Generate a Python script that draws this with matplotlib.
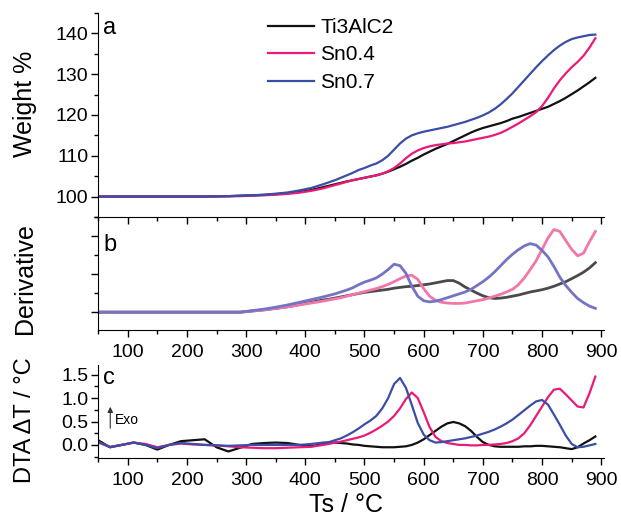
import matplotlib
matplotlib.use("Agg")
import matplotlib.pyplot as plt
from matplotlib.ticker import MultipleLocator

plt.rcParams["font.family"] = ["Liberation Sans", "DejaVu Sans"]

# temperature grid (deg C): coarse below 440, finer above
temp = list(range(50, 431, 20)) + list(range(440, 891, 10))

# panel a: weight %
w_ti3alc2 = [100.0] * 10 + [
    100.05, 100.1, 100.2, 100.3, 100.4, 100.6, 100.8, 101.1, 101.6, 102.3,
    102.65, 103.0, 103.35, 103.7, 104.0, 104.3, 104.6, 104.9, 105.2, 105.6,
    106.1, 106.7, 107.3, 108.0, 108.8, 109.5, 110.3, 111.0, 111.7, 112.3,
    112.9, 113.6, 114.3, 115.0, 115.7, 116.3, 116.8, 117.2, 117.6, 118.0,
    118.5, 119.1, 119.5, 120.0, 120.5, 121.0, 121.5, 122.0, 122.7, 123.4,
    124.2, 125.1, 126.0, 127.0, 128.0, 129.1]
w_sn04 = [100.0] * 10 + [
    100.0, 100.05, 100.1, 100.2, 100.3, 100.45, 100.65, 100.95, 101.4, 102.0,
    102.4, 102.8, 103.2, 103.6, 104.0, 104.3, 104.6, 104.9, 105.2, 105.6,
    106.2, 107.0, 108.1, 109.4, 110.5, 111.3, 111.9, 112.3, 112.6, 112.8,
    113.0, 113.1, 113.3, 113.5, 113.8, 114.1, 114.4, 114.7, 115.1, 115.6,
    116.3, 117.1, 117.9, 118.8, 119.7, 120.7, 122.2, 124.2, 126.5, 128.5,
    130.2, 131.7, 133.0, 134.5, 136.5, 138.8]
w_sn07 = [100.0] * 10 + [
    100.05, 100.1, 100.2, 100.3, 100.45, 100.7, 101.0, 101.5, 102.1, 103.0,
    103.5, 104.0, 104.6, 105.2, 105.8, 106.5, 107.0, 107.6, 108.1, 108.9,
    110.0, 111.5, 113.0, 114.2, 115.0, 115.5, 115.9, 116.2, 116.5, 116.8,
    117.1, 117.5, 117.9, 118.3, 118.8, 119.3, 119.9, 120.6, 121.5, 122.6,
    123.9, 125.3, 126.9, 128.5, 130.1, 131.7, 133.2, 134.6, 135.9, 137.0,
    137.9, 138.6, 139.0, 139.3, 139.6, 139.7]

# panel b: derivative (arb. units)
d_ti3alc2 = [0.0] * 13 + [
    0.03, 0.06, 0.1, 0.14, 0.2, 0.26, 0.32,
    0.34, 0.37, 0.4, 0.43, 0.46, 0.49, 0.52, 0.54, 0.56, 0.58,
    0.6, 0.63, 0.65, 0.67, 0.68, 0.7, 0.72, 0.74, 0.77, 0.8,
    0.83, 0.83, 0.76, 0.66, 0.58, 0.5, 0.43, 0.38, 0.36, 0.37,
    0.39, 0.42, 0.45, 0.49, 0.53, 0.56, 0.59, 0.63, 0.68, 0.74,
    0.8, 0.88, 0.96, 1.05, 1.16, 1.3]
d_sn04 = [0.0] * 13 + [
    0.03, 0.06, 0.1, 0.14, 0.19, 0.24, 0.29,
    0.32, 0.35, 0.38, 0.42, 0.46, 0.5, 0.54, 0.58, 0.62, 0.67,
    0.73, 0.8, 0.88, 0.95, 0.97, 0.86, 0.62, 0.42, 0.31, 0.26,
    0.24, 0.23, 0.23, 0.24, 0.27, 0.3, 0.33, 0.37, 0.42, 0.47,
    0.53, 0.6, 0.72, 0.9, 1.12, 1.35, 1.65, 1.95, 2.17, 2.12,
    1.88, 1.65, 1.48, 1.55, 1.85, 2.12]
d_sn07 = [0.0] * 13 + [
    0.04, 0.08, 0.13, 0.19, 0.26, 0.33, 0.4,
    0.44, 0.48, 0.53, 0.58, 0.64, 0.72, 0.79, 0.84, 0.9, 1.0,
    1.12, 1.26, 1.22, 1.02, 0.68, 0.42, 0.3, 0.27, 0.29, 0.33,
    0.38, 0.43, 0.48, 0.53, 0.6, 0.7, 0.8, 0.92, 1.06, 1.22,
    1.38, 1.52, 1.64, 1.74, 1.8, 1.76, 1.62, 1.45, 1.2, 0.92,
    0.7, 0.52, 0.36, 0.25, 0.16, 0.1]

# panel c: DTA delta T (deg C)
dta_ti3alc2 = [
    0.1, -0.05, 0.0, 0.05, 0.0, -0.1, 0.0, 0.08, 0.1, 0.12,
    -0.05, -0.14, -0.06, 0.02, 0.04, 0.05, 0.04, 0.0, -0.03, 0.02,
    0.05, 0.05, 0.04, 0.03, 0.01, 0.0, -0.02, -0.03, -0.04, -0.05,
    -0.05, -0.05, -0.04, -0.03, 0.0, 0.05, 0.12, 0.21, 0.3, 0.39,
    0.46, 0.49, 0.46, 0.4, 0.3, 0.17, 0.06, 0.0, -0.03, -0.04,
    -0.04, -0.04, -0.04, -0.03, -0.03, -0.02, -0.02, -0.03, -0.04, -0.05,
    -0.07, -0.09, -0.05, 0.03, 0.1, 0.18]
dta_sn04 = [
    0.05, -0.04, 0.0, 0.05, 0.02, -0.05, 0.0, 0.03, 0.01, 0.0,
    -0.01, -0.03, -0.05, -0.06, -0.07, -0.07, -0.06, -0.05, -0.04, 0.0,
    0.02, 0.05, 0.07, 0.1, 0.13, 0.16, 0.2, 0.26, 0.33, 0.41,
    0.5, 0.62, 0.78, 0.98, 1.12, 1.0, 0.7, 0.38, 0.17, 0.08,
    0.04, 0.02, 0.0, 0.0, -0.01, -0.01, 0.0, 0.0, 0.01, 0.02,
    0.04, 0.08, 0.14, 0.25, 0.42, 0.62, 0.82, 1.02, 1.18, 1.2,
    1.08, 0.95, 0.82, 0.8, 1.1, 1.46]
dta_sn07 = [
    0.07, -0.05, 0.0, 0.05, 0.0, -0.07, 0.0, 0.04, 0.02, 0.0,
    -0.01, -0.02, -0.01, 0.0, 0.0, 0.0, 0.0, 0.0, 0.02, 0.05,
    0.06, 0.1, 0.14, 0.2, 0.27, 0.35, 0.44, 0.52, 0.62, 0.78,
    1.0, 1.3, 1.43, 1.22, 0.85, 0.47, 0.22, 0.1, 0.05, 0.06,
    0.08, 0.1, 0.12, 0.14, 0.17, 0.2, 0.24, 0.28, 0.33, 0.39,
    0.46, 0.54, 0.64, 0.74, 0.84, 0.93, 0.96, 0.86, 0.65, 0.43,
    0.2, 0.02, -0.05, -0.04, -0.01, 0.02]

labels = ["Ti3AlC2", "Sn0.4", "Sn0.7"]
colors = ["#111111", "#ea1a78", "#3b4ea6"]
light = ["#4a4a4a", "#f276aa", "#7474c4"]

fig = plt.figure(figsize=(6.21, 5.19), dpi=100)
ax1 = fig.add_axes([0.158, 0.582, 0.815, 0.393])
ax2 = fig.add_axes([0.158, 0.364, 0.815, 0.218])
ax3 = fig.add_axes([0.158, 0.1175, 0.815, 0.1795])

for w, c, lab in zip([w_ti3alc2, w_sn04, w_sn07], colors, labels):
    ax1.plot(temp, w, color=c, lw=1.6, label=lab)
for d, c in zip([d_ti3alc2, d_sn04, d_sn07], light):
    ax2.plot(temp, d, color=c, lw=2.0)
for t, c in zip([dta_ti3alc2, dta_sn04, dta_sn07], colors):
    ax3.plot(temp, t, color=c, lw=1.6)

ax1.set_ylim(95, 145)
ax1.yaxis.set_major_locator(MultipleLocator(10))
ax1.yaxis.set_minor_locator(MultipleLocator(5))
ax2.set_ylim(-0.47, 2.5)
ax2.yaxis.set_major_locator(MultipleLocator(1))
ax2.yaxis.set_minor_locator(MultipleLocator(0.5))
ax2.set_yticklabels([])
ax3.set_ylim(-0.28, 1.71)
ax3.yaxis.set_major_locator(MultipleLocator(0.5))
ax3.yaxis.set_minor_locator(MultipleLocator(0.25))
ax3.yaxis.set_major_formatter("{x:.1f}")

for ax in (ax1, ax2, ax3):
    ax.set_xlim(50, 905)
    ax.xaxis.set_major_locator(MultipleLocator(100))
    ax.xaxis.set_minor_locator(MultipleLocator(50))
    ax.spines["top"].set_visible(False)
    ax.spines["right"].set_visible(False)
    ax.patch.set_alpha(0)
    ax.tick_params(which="major", direction="out", length=5, width=1,
                   labelsize=14, pad=2)
    ax.tick_params(which="minor", direction="out", length=3, width=1)
ax1.tick_params(axis="x", labelbottom=False)
ax2.tick_params(axis="x", pad=5)
ax3.tick_params(axis="x", pad=5)

ax1.legend(loc="upper left", bbox_to_anchor=(0.4316, 0.965),
           bbox_transform=fig.transFigure, frameon=False, fontsize=15,
           handlelength=2.2, handletextpad=0.3, labelspacing=0.4,
           borderpad=0, borderaxespad=0)

fig.text(0.166, 0.946, "a", fontsize=17, ha="left", va="center")
fig.text(0.166, 0.528, "b", fontsize=17, ha="left", va="center")
fig.text(0.166, 0.272, "c", fontsize=17, ha="left", va="center")

fig.text(0.040, 0.80, "Weight %", fontsize=18, rotation=90,
         ha="center", va="center")
fig.text(0.040, 0.464, "Derivative", fontsize=18, rotation=90,
         ha="center", va="center")
fig.text(0.040, 0.19, "DTA \u0394T / \u00b0C", fontsize=17, rotation=90,
         ha="center", va="center")
fig.text(0.557, 0.027, "Ts / \u00b0C", fontsize=18, ha="center", va="center")

ax3.annotate("", xy=(0.024, 0.58), xytext=(0.024, 0.29),
             xycoords="axes fraction",
             arrowprops=dict(arrowstyle="-|>", color="#333333", lw=0.8,
                             mutation_scale=8))
ax3.text(0.034, 0.41, "Exo", transform=ax3.transAxes, fontsize=10,
         ha="left", va="center")

fig.savefig("out.png", dpi=100)
